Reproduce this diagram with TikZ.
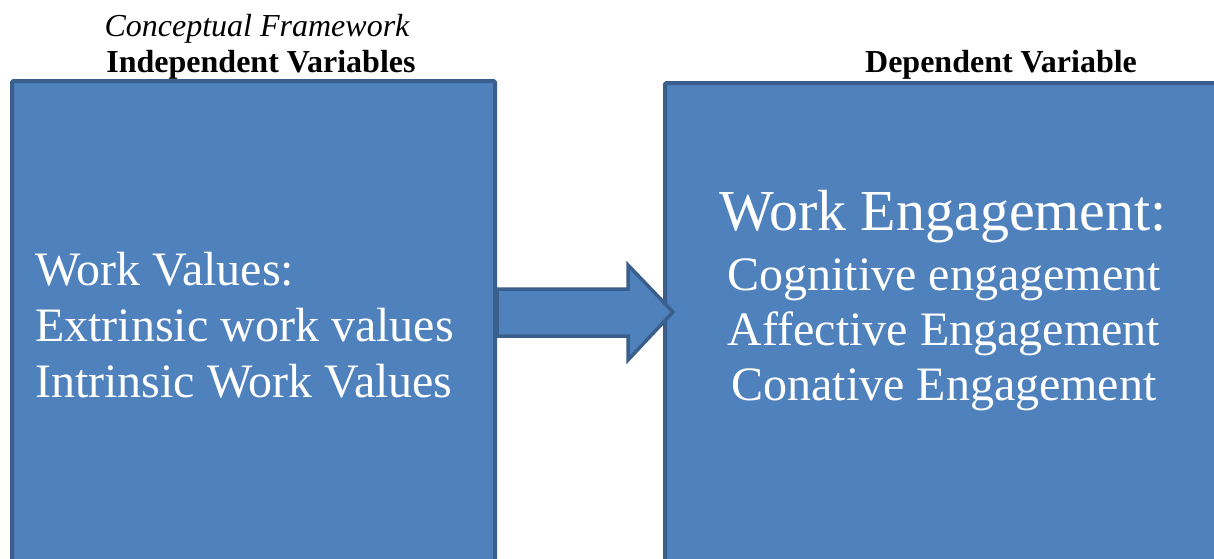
\documentclass[tikz,border=0pt]{standalone}
\usepackage{fontspec}
\setmainfont{Liberation Serif}
\definecolor{boxfill}{HTML}{4F81BD}
\definecolor{boxline}{HTML}{3A5F8C}
\begin{document}
\begin{tikzpicture}[x=1pt,y=-1pt,
  varbox/.style={draw=boxline,line width=4pt,fill=boxfill,rounded corners=1.5pt},
  headtxt/.style={font=\fontsize{32}{36}\selectfont\bfseries,inner sep=0pt},
  bodytxt/.style={text=white,inner sep=0pt}]
\useasboundingbox (0,0) rectangle (1214,558);
\clip (0,0) rectangle (1214,558);
\node[font=\fontsize{32}{36}\selectfont\itshape,inner sep=0pt] (title) at (257,29) {Conceptual Framework};
\node[headtxt] (ihead) at (261,65) {Independent Variables};
\node[headtxt] (dhead) at (1001,65) {Dependent Variable};
\draw[varbox] (12,81) rectangle (495,620);
\coordinate (lb) at (495,312);
\draw[varbox] (665,83) rectangle (1240,620);
\coordinate (rb) at (665,312);
\draw[varbox,line width=3.5pt,rounded corners=0pt]
  (497,289) -- (628,289) -- (628,265) -- (673,312) -- (628,360) -- (628,336) -- (497,336) -- cycle;
\node[bodytxt,anchor=west,align=left,font=\fontsize{48}{56}\selectfont] (wv) at (35,325)
  {Work Values:\\Extrinsic work values\\Intrinsic Work Values};
\node[bodytxt,font=\fontsize{58}{60}\selectfont] (we) at (943,217) {Work Engagement:};
\node[bodytxt,align=center,font=\fontsize{48}{55}\selectfont] (wel) at (944,335)
  {Cognitive engagement\\Affective Engagement\\Conative Engagement};
\end{tikzpicture}
\end{document}
